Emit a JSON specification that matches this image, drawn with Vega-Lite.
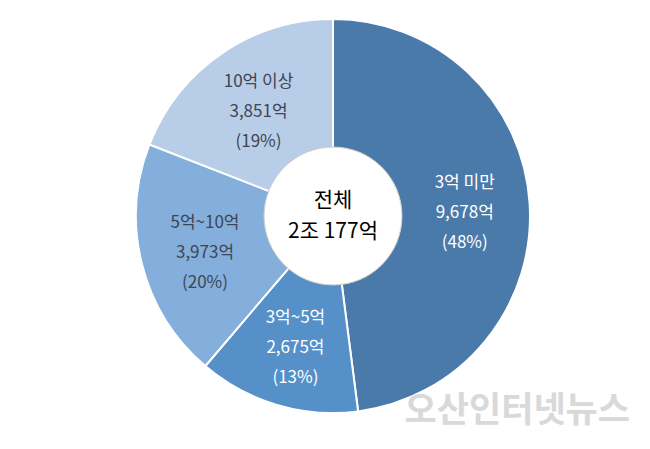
{
  "$schema": "https://vega.github.io/schema/vega-lite/v6.json",
  "width": 634,
  "height": 432,
  "autosize": {"type": "none"},
  "padding": {"left": 16, "top": 0, "right": 0, "bottom": 17},
  "background": "white",
  "title": {
    "text": "오산인터넷뉴스",
    "orient": "bottom",
    "anchor": "end",
    "frame": "group",
    "offset": -38,
    "dx": -20,
    "fontSize": 35,
    "fontWeight": "bold",
    "font": "Noto Sans CJK KR",
    "color": "#d9d9d9"
  },
  "layer": [
    {
      "data": {
        "values": [
          {"category": "3억 미만", "amount": 9678, "label": "3억 미만\n9,678억\n(48%)", "order": 1},
          {"category": "3억~5억", "amount": 2675, "label": "3억~5억\n2,675억\n(13%)", "order": 2},
          {"category": "5억~10억", "amount": 3973, "label": "5억~10억\n3,973억\n(20%)", "order": 3},
          {"category": "10억 이상", "amount": 3851, "label": "10억 이상\n3,851억\n(19%)", "order": 4}
        ]
      },
      "encoding": {
        "theta": {"field": "amount", "type": "quantitative", "stack": true},
        "order": {"field": "order", "type": "quantitative"}
      },
      "layer": [
        {
          "mark": {"type": "arc", "outerRadius": 197, "innerRadius": 68, "stroke": "white", "strokeWidth": 2},
          "encoding": {
            "color": {
              "field": "category",
              "type": "nominal",
              "scale": {
                "domain": ["3억 미만", "3억~5억", "5억~10억", "10억 이상"],
                "range": ["#4a7aaa", "#5590c8", "#84aedc", "#b8cde8"]
              },
              "legend": null
            }
          }
        },
        {
          "mark": {
            "type": "text",
            "radius": 132,
            "dy": -25,
            "fontSize": 17,
            "font": "Noto Sans CJK KR",
            "lineBreak": "\n",
            "lineHeight": 30,
            "align": "center",
            "baseline": "middle"
          },
          "encoding": {
            "text": {"field": "label"},
            "color": {
              "condition": {"test": "datum.category === '3억 미만' || datum.category === '3억~5억'", "value": "white"},
              "value": "#3d4654"
            }
          }
        }
      ]
    },
    {
      "data": {"values": [{"center": "전체\n2조 177억"}]},
      "layer": [
        {
          "mark": {"type": "arc", "radius": 69, "theta": 0, "theta2": 6.2832, "fill": "white", "stroke": "#c8c8c8", "strokeWidth": 1},
          "encoding": {}
        },
        {
          "mark": {
            "type": "text",
            "fontSize": 21,
            "font": "Noto Sans CJK KR",
            "lineBreak": "\n",
            "lineHeight": 31,
            "align": "center",
            "baseline": "middle",
            "dy": -15,
            "color": "black"
          },
          "encoding": {"text": {"field": "center"}}
        }
      ]
    }
  ]
}
